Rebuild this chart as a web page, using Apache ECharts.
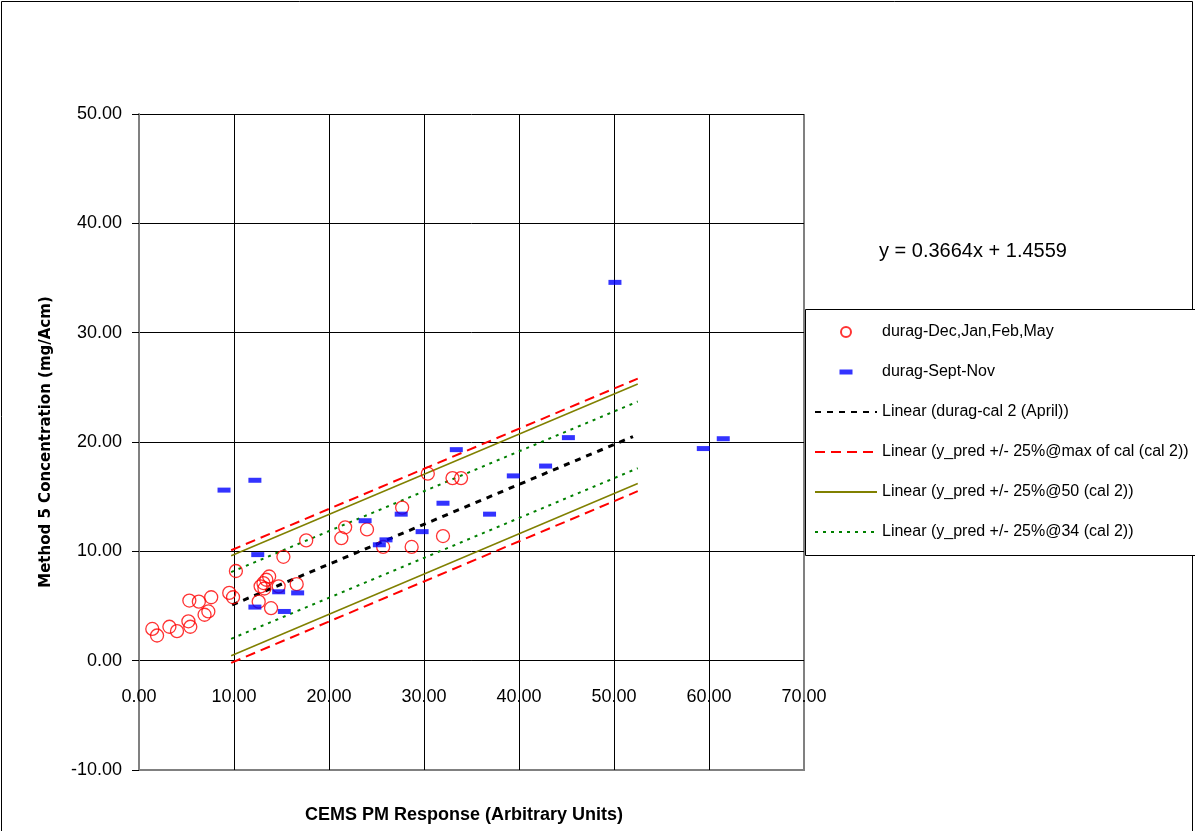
<!DOCTYPE html>
<html>
<head>
<meta charset="utf-8">
<script src="https://cdn.jsdelivr.net/npm/echarts@6/dist/echarts.min.js"></script>
<style>
html,body{margin:0;padding:0;background:#fff;}
#c{width:1195px;height:831px;}
</style>
</head>
<body>
<div id="c"></div>
<script>
// ---- data ----
const redX = [1.4, 1.9, 3.2, 4.0, 5.2, 5.4, 5.3, 6.3, 7.6, 6.9, 7.3, 9.5, 9.9, 10.2, 12.6, 12.8, 13.2, 13.1, 13.4, 13.7, 13.9, 14.7, 15.2, 16.6, 17.6, 21.3, 21.7, 24.0, 25.7, 27.7, 28.7, 30.4, 32.0, 33.0, 33.9];
const redY = [2.9, 2.3, 3.1, 2.7, 3.6, 3.1, 5.5, 5.4, 5.8, 4.2, 4.5, 6.2, 5.8, 8.2, 5.4, 6.8, 6.6, 7.1, 7.4, 7.7, 4.8, 6.8, 9.5, 7.0, 11.0, 11.2, 12.2, 12.0, 10.4, 14.0, 10.4, 17.1, 11.4, 16.7, 16.7];
const blueX = [8.95, 12.2, 12.5, 12.2, 14.7, 15.3, 16.7, 23.8, 25.3, 26.0, 27.6, 29.8, 32.0, 33.4, 36.9, 39.4, 42.8, 45.2, 50.1, 59.4, 61.5];
const blueY = [15.6, 16.5, 9.7, 4.9, 6.3, 4.5, 6.2, 12.8, 10.6, 11.05, 13.4, 11.8, 14.4, 19.3, 13.4, 16.9, 17.8, 20.4, 34.6, 19.4, 20.3];
const calLine = [[9.8, 5.1], [52.0, 20.5]];
const redUpper = [[9.7, 10.1], [52.5, 25.8]];
const redLower = [[9.7, -0.2], [52.5, 15.5]];
const oliveUpper = [[9.7, 9.6], [52.5, 25.3]];
const oliveLower = [[9.7, 0.45], [52.5, 16.2]];
const greenUpper = [[9.7, 8.1], [52.5, 23.7]];
const greenLower = [[9.7, 2.0], [52.5, 17.6]];
const seriesNames = ['durag-Dec,Jan,Feb,May', 'durag-Sept-Nov', 'Linear (durag-cal 2 (April))',
  'Linear (y_pred +/- 25%@max of cal (cal 2))', 'Linear (y_pred +/- 25%@50 (cal 2))', 'Linear (y_pred +/- 25%@34 (cal 2))'];
const equationText = 'y = 0.3664x + 1.4559';
const xTitle = 'CEMS PM Response (Arbitrary Units)';
const yTitle = 'Method 5 Concentration (mg/Acm)';

const F = 'Liberation Sans, Arial, sans-serif';
const zip = (a, b) => a.map((v, i) => [v, b[i]]);
const lineSeries = (name, data, color, width, type) => ({
  name, type: 'line', data, symbol: 'none', silent: true,
  lineStyle: { color, width, type }, itemStyle: { color }, z: 3
});
const hiddenSym = { color: 'rgba(0,0,0,0)', borderWidth: 0, borderColor: 'rgba(0,0,0,0)' };

const chart = echarts.init(document.getElementById('c'), null, { renderer: 'canvas' });
chart.setOption({
  animation: false,
  backgroundColor: '#fff',
  grid: { left: 139, right: 391, top: 114, bottom: 61, show: false, outerBoundsMode: 'none', containLabel: false },
  xAxis: {
    type: 'value', min: 0, max: 70, interval: 10,
    axisLine: { show: false, onZero: false },
    axisTick: { show: false },
    axisLabel: { margin: -82, fontSize: 18, fontFamily: F, color: '#000', formatter: v => v.toFixed(2) },
    splitLine: { show: true, lineStyle: { color: ['#000', '#000', '#000', '#000', '#000', '#000', '#000', '#808080'], width: 1 } },
    name: xTitle, nameLocation: 'middle', nameGap: 36,
    nameTextStyle: { fontSize: 18, fontWeight: 'bold', fontFamily: F, color: '#000', padding: [0, 15, 0, 0] }
  },
  yAxis: {
    type: 'value', min: -10, max: 50, interval: 10,
    axisLine: { show: true, onZero: false, lineStyle: { color: '#808080', width: 2 } },
    axisTick: { show: true, inside: false, length: 7, lineStyle: { color: '#000', width: 1 } },
    axisLabel: { margin: 17, fontSize: 18, fontFamily: F, color: '#000', formatter: v => v.toFixed(2) },
    splitLine: { show: true, lineStyle: { color: ['#808080', '#000', '#000', '#000', '#000', '#000', '#000'], width: 1 } },
    name: yTitle, nameLocation: 'middle', nameGap: 85, nameRotate: 90,
    nameTextStyle: { fontSize: 15, fontWeight: 'bold', fontFamily: 'DejaVu Sans, sans-serif', color: '#000' }
  },
  legend: {
    orient: 'vertical', left: 814, top: 322, padding: 0,
    itemWidth: 62, itemHeight: 10, itemGap: 20, selectedMode: false,
    textStyle: { fontSize: 16, fontFamily: F, color: '#000', lineHeight: 20 },
    data: [
      { name: seriesNames[0], icon: 'circle' },
      { name: seriesNames[1], icon: 'path://M0,0M62,10M24.5,2.5h13v5h-13z' },
      { name: seriesNames[2], itemStyle: hiddenSym },
      { name: seriesNames[3], itemStyle: hiddenSym },
      { name: seriesNames[4], itemStyle: hiddenSym },
      { name: seriesNames[5], itemStyle: hiddenSym }
    ]
  },
  graphic: [
    { type: 'rect', silent: true, z: -1, shape: { x: 1.5, y: 1.5, width: 1191, height: 860 }, style: { fill: null, stroke: '#000', lineWidth: 1 } },
    { type: 'rect', silent: true, z: -1, shape: { x: 805.5, y: 309.5, width: 420, height: 246 }, style: { fill: '#fff', stroke: '#000', lineWidth: 1 } },
    { type: 'line', silent: true, shape: { x1: 804, y1: 114, x2: 804, y2: 770 }, style: { stroke: '#808080', lineWidth: 2 } },
    { type: 'line', silent: true, shape: { x1: 139, y1: 770, x2: 805, y2: 770 }, style: { stroke: '#808080', lineWidth: 2 } },
    { type: 'line', silent: true, shape: { x1: 139, y1: 660.5, x2: 804, y2: 660.5 }, style: { stroke: '#000', lineWidth: 1 } },
    { type: 'text', silent: true, x: 879, y: 251, style: { text: equationText, fontSize: 20, fontFamily: F, fill: '#000', verticalAlign: 'middle' } }
  ],
  series: [
    { name: seriesNames[0], type: 'scatter', data: zip(redX, redY), symbol: 'circle', symbolSize: 13, z: 4,
      itemStyle: { color: 'rgba(255,255,255,0)', borderColor: '#FF0000', borderWidth: 1.3 } },
    { name: seriesNames[1], type: 'scatter', data: zip(blueX, blueY), symbol: 'rect', symbolSize: [13, 5], z: 4,
      itemStyle: { color: '#0000FF' } },
    lineSeries(seriesNames[2], calLine, '#000000', 3, [6, 6]),
    lineSeries(seriesNames[3], redUpper, '#FF0000', 2, [10, 6]),
    lineSeries(seriesNames[4], oliveUpper, '#808000', 1.5, 'solid'),
    lineSeries(seriesNames[5], greenUpper, '#008000', 2, [3, 5]),
    lineSeries(seriesNames[3], redLower, '#FF0000', 2, [10, 6]),
    lineSeries(seriesNames[4], oliveLower, '#808000', 1.5, 'solid'),
    lineSeries(seriesNames[5], greenLower, '#008000', 2, [3, 5])
  ]
});
</script>
</body>
</html>
